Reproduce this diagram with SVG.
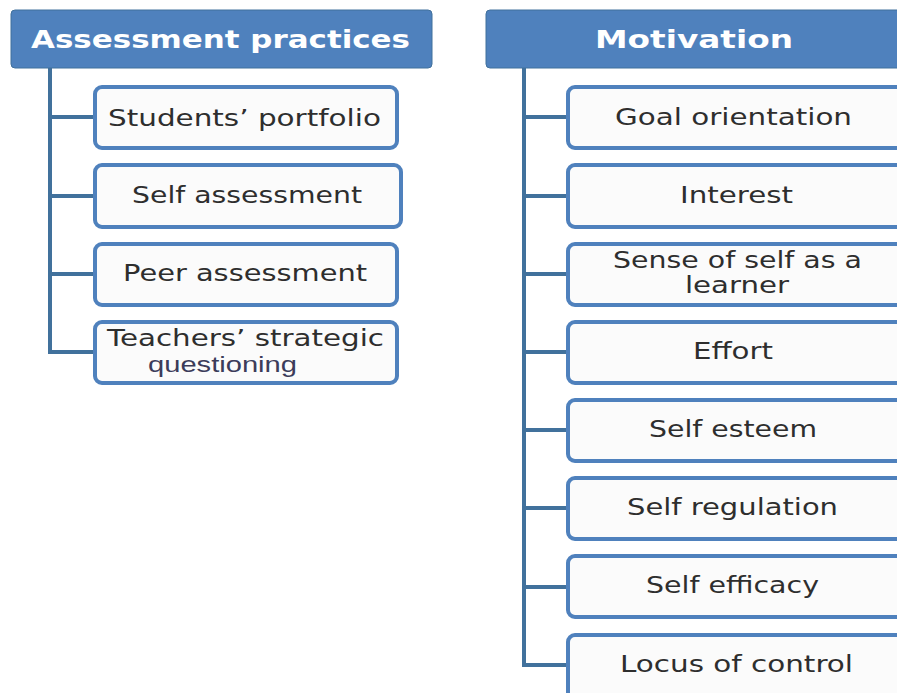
<svg xmlns="http://www.w3.org/2000/svg" width="897" height="693" viewBox="0 0 897 693">
<style>
.hdr{fill:#4f81bd;stroke:#41719c;stroke-width:1}
.hdrt{font-family:"DejaVu Sans",Verdana,sans-serif;font-weight:bold;font-size:25px;fill:#ffffff}
.box{fill:#fbfbfb;stroke:#4f81bd;stroke-width:4}
.t{font-family:"DejaVu Sans",Verdana,sans-serif;font-size:22.5px;fill:#2e2e2e}
.t2{font-family:"Liberation Sans",Arial,sans-serif;font-size:22px;fill:#3c3c5a}
.c{stroke:#41719c;stroke-width:4;fill:none}
</style>
<rect width="897" height="693" fill="#ffffff"/>
<g id="connectors">
<path class="c" d="M50 68 V352 H95"/>
<path class="c" d="M50 117 H95 M50 196 H95 M50 274 H95"/>
<path class="c" d="M524 68 V665 H568"/>
<path class="c" d="M524 117 H568 M524 196 H568 M524 274 H568 M524 352 H568 M524 430 H568 M524 508 H568 M524 587 H568"/>
</g>
<g id="assessment">
<rect class="hdr" x="11" y="10" width="421" height="58" rx="4"/>
<text class="hdrt" x="31" y="47.5" textLength="379" lengthAdjust="spacingAndGlyphs">Assessment practices</text>
</g>
<g id="portfolio"><rect class="box" x="95" y="87" width="302" height="61" rx="7"/><text class="t" x="108" y="126" textLength="273" lengthAdjust="spacingAndGlyphs">Students’ portfolio</text></g>
<g id="self-assessment"><rect class="box" x="95" y="165" width="306" height="62" rx="7"/><text class="t" x="132" y="203" textLength="230" lengthAdjust="spacingAndGlyphs">Self assessment</text></g>
<g id="peer-assessment"><rect class="box" x="95" y="244" width="302" height="61" rx="7"/><text class="t" x="123" y="281" textLength="244" lengthAdjust="spacingAndGlyphs">Peer assessment</text></g>
<g id="questioning"><rect class="box" x="95" y="322" width="302" height="61" rx="7"/><text class="t" x="107" y="346" textLength="277" lengthAdjust="spacingAndGlyphs">Teachers’ strategic</text><text class="t2" x="148" y="372" textLength="149" lengthAdjust="spacingAndGlyphs">questioning</text></g>
<g id="motivation">
<rect class="hdr" x="486" y="10" width="420" height="58" rx="4"/>
<text class="hdrt" x="595" y="47.5" textLength="198" lengthAdjust="spacingAndGlyphs">Motivation</text>
</g>
<g id="goal"><rect class="box" x="568" y="87" width="340" height="61" rx="7"/><text class="t" x="615" y="125" textLength="237" lengthAdjust="spacingAndGlyphs">Goal orientation</text></g>
<g id="interest"><rect class="box" x="568" y="165" width="340" height="62" rx="7"/><text class="t" x="680" y="203" textLength="113" lengthAdjust="spacingAndGlyphs">Interest</text></g>
<g id="sense"><rect class="box" x="568" y="244" width="340" height="61" rx="7"/><text class="t" x="613" y="268" textLength="249" lengthAdjust="spacingAndGlyphs">Sense of self as a</text><text class="t" x="685" y="293" textLength="104" lengthAdjust="spacingAndGlyphs">learner</text></g>
<g id="effort"><rect class="box" x="568" y="322" width="340" height="61" rx="7"/><text class="t" x="693" y="359" textLength="80" lengthAdjust="spacingAndGlyphs">Effort</text></g>
<g id="esteem"><rect class="box" x="568" y="400" width="340" height="61" rx="7"/><text class="t" x="649" y="437" textLength="168" lengthAdjust="spacingAndGlyphs">Self esteem</text></g>
<g id="regulation"><rect class="box" x="568" y="478" width="340" height="61" rx="7"/><text class="t" x="627" y="515" textLength="211" lengthAdjust="spacingAndGlyphs">Self regulation</text></g>
<g id="efficacy"><rect class="box" x="568" y="556" width="340" height="61" rx="7"/><text class="t" x="646" y="593" textLength="173" lengthAdjust="spacingAndGlyphs">Self efficacy</text></g>
<g id="locus"><rect class="box" x="568" y="635" width="340" height="70" rx="7"/><text class="t" x="620" y="672" textLength="233" lengthAdjust="spacingAndGlyphs">Locus of control</text></g>
</svg>
